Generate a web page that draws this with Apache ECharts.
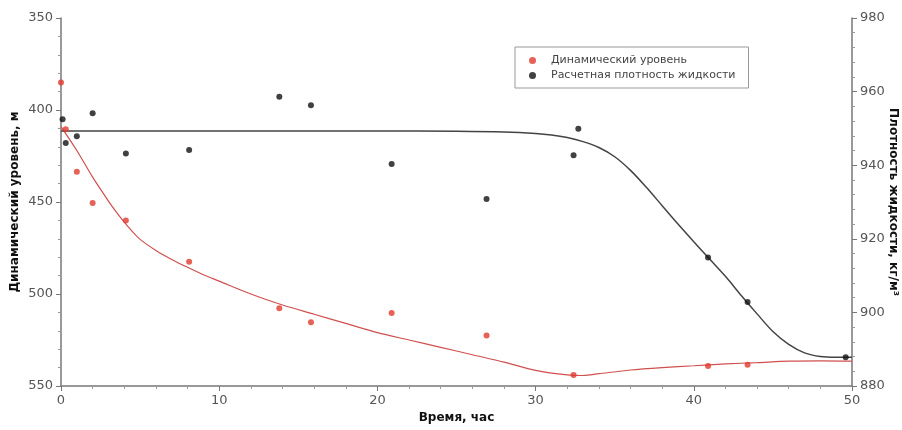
<!DOCTYPE html>
<html>
<head>
<meta charset="utf-8">
<script src="https://cdn.jsdelivr.net/npm/echarts@6/dist/echarts.min.js"></script>
<style>
  html, body { margin: 0; padding: 0; background: #fff; }
  #main { width: 902px; height: 430px; }
</style>
</head>
<body>
<div id="main"></div>
<script>
    // измеренные точки: динамический уровень (левая ось)
    var levelTime = [0, 0.3, 1, 2, 4.1, 8.1, 13.8, 15.8, 20.9, 26.9, 32.4, 40.9, 43.4];
    var levelVal = [385, 410.5, 433.5, 450.5, 460, 482.5, 507.8, 515.4, 510.3, 522.6, 544, 539.1, 538.4];

    // расчетная плотность (правая ось)
    var densTime = [0.1, 0.3, 1, 2, 4.1, 8.1, 13.8, 15.8, 20.9, 26.9, 32.4, 32.7, 40.9, 43.4, 49.6];
    var densVal = [952.5, 946, 947.9, 954.1, 943.2, 944.1, 958.6, 956.3, 940.3, 930.8, 942.7, 949.9, 914.9, 902.8, 887.8];

    // аппроксимирующие кривые
    var levelFitX = [0, 1, 2, 3, 3.5, 4, 4.5, 5, 6, 7, 8, 9, 10, 12, 14, 16, 18, 20, 22, 24, 26, 28, 30, 32, 33, 34, 36, 38, 40, 42, 44, 46, 48, 50];
    var levelFitY = [409, 422, 436.5, 449.5, 455.5, 461, 466, 470.3, 476.3, 481.2, 485.5, 489.5, 493, 500, 506, 511, 516, 521, 525, 529, 533, 537, 541.5, 544, 544.3, 543.3, 541.3, 540, 539, 538, 537.3, 536.5, 536.3, 536.5];

    var densFitX = [0, 5, 10, 15, 20, 25, 28, 30, 31, 32, 33, 34, 35, 36, 37, 38, 39, 40, 41, 42, 43, 44, 45, 46, 47, 48, 49, 50];
    var densFitY = [949.3, 949.3, 949.3, 949.3, 949.3, 949.2, 949, 948.6, 948.2, 947.5, 946.4, 944.8, 942.3, 938.6, 934, 929, 924, 919.2, 914.5, 909.8, 904.6, 899.6, 894.8, 891.3, 889, 888, 887.8, 887.8];

    var xTicks = [0, 10, 20, 30, 40, 50];

    function pairs(xs, ys) {
        var out = [];
        for (var i = 0; i < xs.length; i++) {
            out.push([xs[i], ys[i]]);
        }
        return out;
    }

    var axisText = { color: '#555', fontFamily: 'DejaVu Sans', fontSize: 13 };
    var nameText = { color: '#111', fontFamily: 'DejaVu Sans', fontSize: 12, fontWeight: 'bold' };
    var lineGray = { lineStyle: { color: '#777', width: 1.5 } };

    var option = {
        animation: false,
        backgroundColor: '#fff',
        grid: { left: 61, right: 50, top: 18, bottom: 44, outerBoundsMode: 'none' },
        legend: {
            data: ['Динамический уровень', 'Расчетная плотность жидкости'],
            orient: 'vertical',
            left: 515, top: 47,
            itemWidth: 7, itemHeight: 7, itemGap: 4,
            padding: [8, 13, 7, 14],
            borderColor: '#999', borderWidth: 1,
            textStyle: { color: '#444', fontFamily: 'DejaVu Sans', fontSize: 11, padding: [0, 0, 0, 10] }
        },
        xAxis: {
            type: 'value', min: xTicks[0], max: xTicks[xTicks.length - 1], interval: 10,
            name: 'Время, час', nameLocation: 'middle', nameGap: 24, nameTextStyle: nameText,
            axisLine: lineGray,
            axisTick: { length: 5, lineStyle: { color: '#777' } },
            minorTick: { show: true, splitNumber: 5, length: 3, lineStyle: { color: '#999' } },
            axisLabel: axisText,
            splitLine: { show: false }
        },
        yAxis: [{
            type: 'value', min: 350, max: 550, interval: 50, inverse: true,
            name: 'Динамический уровень, м', nameLocation: 'middle', nameGap: 40, nameMoveOverlap: false,
            nameTextStyle: nameText,
            axisLine: { show: true, lineStyle: { color: '#777', width: 1.5 } },
            axisTick: { show: true, length: 5, lineStyle: { color: '#777' } },
            minorTick: { show: true, splitNumber: 5, length: 3, lineStyle: { color: '#999' } },
            axisLabel: axisText,
            splitLine: { show: false }
        }, {
            type: 'value', min: 880, max: 980, interval: 20, position: 'right',
            name: 'Плотность жидкости, кг/м³', nameLocation: 'middle', nameGap: 35, nameRotate: -90,
            nameMoveOverlap: false, nameTextStyle: nameText,
            axisLine: { show: true, lineStyle: { color: '#777', width: 1.5 } },
            axisTick: { show: true, length: 5, lineStyle: { color: '#777' } },
            minorTick: { show: true, splitNumber: 5, length: 3, lineStyle: { color: '#999' } },
            axisLabel: axisText,
            splitLine: { show: false }
        }],
        series: [{
            name: 'fitLevel', type: 'line', yAxisIndex: 0,
            data: pairs(levelFitX, levelFitY),
            smooth: 0.3, showSymbol: false, silent: true,
            lineStyle: { color: '#d0504f', width: 1.2 }, z: 2
        }, {
            name: 'fitDens', type: 'line', yAxisIndex: 1,
            data: pairs(densFitX, densFitY),
            smooth: 0.3, showSymbol: false, silent: true,
            lineStyle: { color: '#444', width: 1.5 }, z: 2
        }, {
            name: 'Динамический уровень', type: 'scatter', yAxisIndex: 0,
            data: pairs(levelTime, levelVal),
            symbolSize: 6, itemStyle: { color: '#e03a2e' }, z: 5
        }, {
            name: 'Расчетная плотность жидкости', type: 'scatter', yAxisIndex: 1,
            data: pairs(densTime, densVal),
            symbolSize: 6, itemStyle: { color: '#111' }, z: 5
        }]
    };

    echarts.init(document.getElementById('main')).setOption(option);
</script>
</body>
</html>
